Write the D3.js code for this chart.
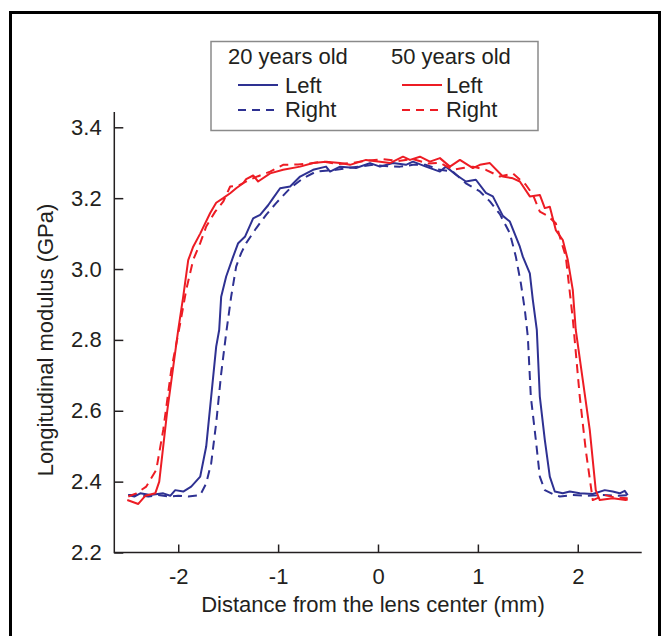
<!DOCTYPE html>
<html>
<head>
<meta charset="utf-8">
<script src="https://cdn.jsdelivr.net/npm/d3@7"></script>
<style>
body { margin: 0; background: #fff; }
text { font-family: "Liberation Sans", Arial, sans-serif; fill: #231f20; }
</style>
</head>
<body>
<div></div>
<script>
// 20 years old, left eye (solid blue)
var youngLeftX = [-2.50,-2.44,-2.38,-2.28,-2.15,-2.08,-2.03,-1.95,-1.87,-1.78,-1.72,-1.67,-1.62,-1.59,-1.57,-1.52,-1.45,-1.40,-1.33,-1.25,-1.18,-1.10,-1.05,-0.98,-0.88,-0.78,-0.65,-0.52,-0.48,-0.38,-0.22,-0.08,0.02,0.15,0.28,0.35,0.48,0.62,0.68,0.78,0.88,0.98,1.08,1.15,1.25,1.32,1.42,1.45,1.52,1.55,1.59,1.62,1.67,1.72,1.77,1.85,1.92,2.02,2.15,2.27,2.35,2.42,2.47,2.50];
var youngLeftY = [2.362,2.358,2.367,2.362,2.367,2.360,2.376,2.372,2.386,2.414,2.499,2.640,2.781,2.828,2.922,2.979,3.035,3.073,3.092,3.143,3.153,3.180,3.200,3.228,3.233,3.261,3.280,3.289,3.275,3.289,3.285,3.299,3.289,3.299,3.294,3.303,3.289,3.275,3.289,3.266,3.247,3.252,3.215,3.205,3.150,3.134,3.063,3.035,2.988,2.913,2.828,2.640,2.518,2.414,2.372,2.367,2.372,2.367,2.365,2.376,2.372,2.367,2.374,2.362];

// 20 years old, right eye (dashed blue)
var youngRightX = [-2.50,-2.40,-2.30,-2.20,-2.10,-2.00,-1.90,-1.78,-1.72,-1.67,-1.62,-1.57,-1.52,-1.47,-1.42,-1.37,-1.32,-1.22,-1.12,-1.02,-0.88,-0.75,-0.62,-0.42,-0.30,-0.20,-0.05,0.10,0.22,0.35,0.48,0.62,0.75,0.88,1.02,1.12,1.22,1.32,1.38,1.43,1.47,1.50,1.53,1.58,1.62,1.67,1.75,1.82,1.95,2.10,2.25,2.40,2.50];
var youngRightY = [2.362,2.362,2.358,2.362,2.358,2.360,2.358,2.362,2.395,2.452,2.565,2.705,2.819,2.922,3.007,3.045,3.073,3.115,3.153,3.186,3.228,3.256,3.275,3.280,3.285,3.289,3.294,3.290,3.289,3.294,3.294,3.280,3.275,3.242,3.219,3.191,3.155,3.101,3.035,2.960,2.885,2.809,2.640,2.518,2.414,2.376,2.365,2.358,2.362,2.360,2.362,2.360,2.362];

// 50 years old, left eye (solid red)
var oldLeftX = [-2.51,-2.40,-2.33,-2.23,-2.19,-2.11,-2.00,-1.95,-1.90,-1.85,-1.78,-1.68,-1.62,-1.55,-1.48,-1.42,-1.35,-1.32,-1.25,-1.20,-1.08,-0.95,-0.78,-0.65,-0.52,-0.38,-0.28,-0.12,0.02,0.12,0.25,0.32,0.42,0.52,0.62,0.72,0.82,0.95,1.02,1.12,1.25,1.35,1.42,1.52,1.62,1.67,1.72,1.78,1.85,1.90,1.95,1.98,2.05,2.12,2.18,2.22,2.35,2.48,2.50];
var oldLeftY = [2.348,2.337,2.360,2.367,2.400,2.600,2.828,2.922,3.025,3.063,3.100,3.158,3.187,3.200,3.214,3.228,3.242,3.254,3.264,3.247,3.270,3.280,3.289,3.299,3.303,3.299,3.294,3.308,3.303,3.299,3.317,3.308,3.317,3.303,3.313,3.289,3.308,3.285,3.294,3.299,3.261,3.256,3.247,3.205,3.209,3.172,3.176,3.110,3.082,3.026,2.941,2.828,2.687,2.546,2.376,2.348,2.353,2.348,2.350];

// 50 years old, right eye (dashed red)
var oldRightX = [-2.50,-2.42,-2.32,-2.22,-2.15,-2.07,-1.98,-1.92,-1.85,-1.78,-1.72,-1.63,-1.55,-1.48,-1.40,-1.30,-1.20,-1.08,-0.95,-0.80,-0.68,-0.55,-0.40,-0.25,-0.10,0.05,0.20,0.35,0.50,0.62,0.75,0.85,0.95,1.08,1.22,1.35,1.48,1.55,1.62,1.70,1.78,1.88,1.95,2.02,2.08,2.15,2.27,2.38,2.50];
var oldRightY = [2.358,2.367,2.386,2.433,2.546,2.715,2.847,2.941,3.026,3.073,3.120,3.162,3.190,3.233,3.235,3.250,3.262,3.275,3.294,3.295,3.298,3.303,3.296,3.300,3.306,3.310,3.305,3.310,3.298,3.300,3.280,3.285,3.289,3.280,3.261,3.270,3.238,3.210,3.162,3.150,3.129,3.035,2.860,2.640,2.489,2.348,2.362,2.355,2.353];

var xTicks = [-2, -1, 0, 1, 2];
var yTicks = [2.2, 2.4, 2.6, 2.8, 3.0, 3.2, 3.4];

function init() {
var w = 665;
var h = 636;
var blue = "#2e3192";
var red = "#ed1c24";

var svg = d3.select("div")
            .append("svg")
            .attr("width", w)
            .attr("height", h);

// outer frame
svg.append("rect")
    .attr("x", 10.5)
    .attr("y", 12.5)
    .attr("width", 649)
    .attr("height", 640)
    .attr("fill", "none")
    .attr("stroke", "#000")
    .attr("stroke-width", 3);

var x = d3.scaleLinear().domain([-2.64, 2.64]).range([114.3, 641.7]);
var y = d3.scaleLinear().domain([2.2, 3.4]).range([552.5, 127.3]);

var xAxis = d3.axisBottom(x)
    .tickValues(xTicks)
    .tickFormat(function(d) { return String(d); })
    .tickSizeInner(-8)
    .tickSizeOuter(0)
    .tickPadding(16);

var yAxis = d3.axisLeft(y)
    .tickValues(yTicks)
    .tickFormat(d3.format(".1f"))
    .tickSizeInner(-9)
    .tickSizeOuter(0)
    .tickPadding(12.6);

var gx = svg.append("g")
    .attr("transform", "translate(0," + y(2.2) + ")")
    .call(xAxis);
var gy = svg.append("g")
    .attr("transform", "translate(" + x(-2.64) + ",0)")
    .call(yAxis);

[gx, gy].forEach(function(g) {
    g.select(".domain").remove();
    g.selectAll("line").attr("stroke", "#231f20").attr("stroke-width", 1.5);
    g.selectAll("text")
        .attr("fill", "#231f20")
        .style("font-size", "22px")
        .style("font-family", "'Liberation Sans', Arial, sans-serif");
});

// axis lines
svg.append("line")
    .attr("x1", x(-2.64)).attr("x2", x(2.64))
    .attr("y1", y(2.2)).attr("y2", y(2.2))
    .attr("stroke", "#231f20").attr("stroke-width", 1.5);
svg.append("line")
    .attr("x1", x(-2.64)).attr("x2", x(-2.64))
    .attr("y1", y(2.2) + 0.75).attr("y2", y(3.443))
    .attr("stroke", "#231f20").attr("stroke-width", 1.5);

svg.append("text")
    .attr("x", 373)
    .attr("y", 612)
    .attr("text-anchor", "middle")
    .style("font-size", "22px")
    .text("Distance from the lens center (mm)");

svg.append("text")
    .attr("transform", "translate(53,340) rotate(-90)")
    .attr("text-anchor", "middle")
    .style("font-size", "22px")
    .text("Longitudinal modulus (GPa)");

var series = [
    { xs: youngLeftX, ys: youngLeftY, color: blue, dash: null },
    { xs: youngRightX, ys: youngRightY, color: blue, dash: "9,6" },
    { xs: oldLeftX, ys: oldLeftY, color: red, dash: null },
    { xs: oldRightX, ys: oldRightY, color: red, dash: "9,6" }
];

var line = d3.line()
    .x(function(d) { return x(d[0]); })
    .y(function(d) { return y(d[1]); });

svg.selectAll("path.curve")
    .data(series)
    .enter()
    .append("path")
    .attr("class", "curve")
    .attr("d", function(s) {
        return line(s.xs.map(function(v, i) { return [v, s.ys[i]]; }));
    })
    .attr("fill", "none")
    .attr("stroke", function(s) { return s.color; })
    .attr("stroke-width", 2)
    .attr("stroke-linejoin", "round")
    .attr("stroke-dasharray", function(s) { return s.dash; });

// legend
var lg = svg.append("g");
lg.append("rect")
    .attr("x", 211)
    .attr("y", 41.5)
    .attr("width", 327)
    .attr("height", 89)
    .attr("fill", "#fff")
    .attr("stroke", "#8a8a8a")
    .attr("stroke-width", 1.5);

var heads = [
    { label: "20 years old", x: 228, color: blue, lx: 238, tx: 285 },
    { label: "50 years old", x: 391, color: red, lx: 402, tx: 446 }
];

heads.forEach(function(hd) {
    lg.append("text")
        .attr("x", hd.x)
        .attr("y", 64)
        .style("font-size", "22px")
        .text(hd.label);
    [["Left", null, 85, 92.5], ["Right", "9,6", 110, 116.5]].forEach(function(r) {
        lg.append("line")
            .attr("x1", hd.lx).attr("x2", hd.lx + 40)
            .attr("y1", r[2]).attr("y2", r[2])
            .attr("stroke", hd.color)
            .attr("stroke-width", 2)
            .attr("stroke-dasharray", r[1] ? "8,6" : null);
        lg.append("text")
            .attr("x", hd.tx)
            .attr("y", r[3])
            .style("font-size", "22px")
            .text(r[0]);
    });
});
}

window.onload = init;
</script>
</body>
</html>
